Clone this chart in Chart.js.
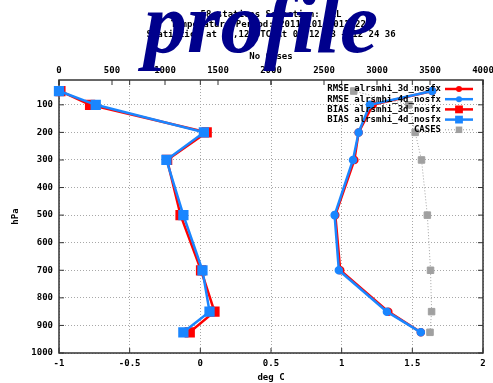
<!DOCTYPE html>
<html>
<head>
<meta charset="utf-8">
<script src="https://cdn.jsdelivr.net/npm/chart.js@4.4.1/dist/chart.umd.min.js"></script>
<style>
  html, body { margin: 0; padding: 0; background: #fff; }
</style>
</head>
<body>
<canvas id="profileChart" width="493" height="383"></canvas>
<script>
// pressure levels (hPa) and scores
const levels = [50, 100, 200, 300, 500, 700, 850, 925];
const rmse3d = [1.64, 1.22, 1.12, 1.09, 0.955, 0.99, 1.33, 1.56];
const rmse4d = [1.64, 1.20, 1.12, 1.08, 0.95, 0.98, 1.32, 1.56];
const bias3d = [-0.99, -0.78, 0.045, -0.235, -0.14, 0.005, 0.10, -0.075];
const bias4d = [-1.0, -0.74, 0.025, -0.24, -0.12, 0.015, 0.065, -0.12];
const cases = [2780, 3300, 3360, 3420, 3475, 3505, 3515, 3500];

const yTicks = [100, 200, 300, 400, 500, 600, 700, 800, 900, 1000];
const titleLines = [
  "58 stations Selection: ALL",
  "Temperature Period: 20110101-20110228",
  "Statistics at 00,12 UTC At 00,12,23 + 12 24 36",
];

const red = "#ff0000";
const blue = "#1a86ff";
const gray = "#a0a0a0";
const gridColor = "#a8a8a8";
const monoFont = "'DejaVu Sans Mono', monospace";

Chart.defaults.font.family = monoFont;
Chart.defaults.font.size = 9;
Chart.defaults.font.weight = "bold";
Chart.defaults.color = "#000";

function series(xs) {
  return levels.map((p, i) => ({ x: xs[i], y: p }));
}

function line(ctx, x1, y1, x2, y2) {
  ctx.beginPath();
  ctx.moveTo(x1, y1);
  ctx.lineTo(x2, y2);
  ctx.stroke();
}

// border box with gnuplot style inward ticks
const framePlugin = {
  id: "frame",
  beforeDatasetsDraw(chart) {
    const { ctx, chartArea: a } = chart;
    const { x, y, x2 } = chart.scales;
    ctx.save();
    ctx.strokeStyle = "#333";
    ctx.lineWidth = 1;
    x.ticks.forEach((t) => {
      const px = x.getPixelForValue(t.value);
      line(ctx, px, a.bottom, px, a.bottom - 5);
      line(ctx, px, a.top, px, a.top + 5);
    });
    x2.ticks.forEach((t) => {
      const px = x2.getPixelForValue(t.value);
      line(ctx, px, a.top, px, a.top + 5);
    });
    y.ticks.forEach((t) => {
      const py = y.getPixelForValue(t.value);
      line(ctx, a.left, py, a.left + 5, py);
      line(ctx, a.right, py, a.right - 5, py);
    });
    ctx.lineWidth = 1.5;
    ctx.strokeRect(a.left, a.top, a.right - a.left, a.bottom - a.top);
    ctx.restore();
  },
};

// key in the top right corner, text right aligned with the sample after it
const keyPlugin = {
  id: "key",
  afterDatasetsDraw(chart) {
    const { ctx, chartArea: a } = chart;
    ctx.save();
    ctx.font = "bold 9px " + monoFont;
    ctx.textAlign = "right";
    ctx.textBaseline = "middle";
    chart.data.datasets.forEach((ds, i) => {
      const yy = a.top + 9 + i * 10.2;
      ctx.fillStyle = "#000";
      ctx.fillText(ds.label, a.right - 42, yy);
      ctx.strokeStyle = ds.borderColor;
      ctx.lineWidth = ds.borderWidth;
      ctx.setLineDash(ds.borderDash || []);
      line(ctx, a.right - 38, yy, a.right - 10, yy);
      ctx.setLineDash([]);
      ctx.fillStyle = ds.backgroundColor;
      const mx = a.right - 24;
      if (ds.pointStyle === "circle") {
        ctx.beginPath();
        ctx.arc(mx, yy, ds.pointRadius, 0, Math.PI * 2);
        ctx.fill();
      } else {
        const s = ds.pointRadius * Math.SQRT1_2;
        ctx.fillRect(mx - s, yy - s, 2 * s, 2 * s);
      }
    });
    ctx.restore();
  },
};

const stampPlugin = {
  id: "stamp",
  afterDraw(chart) {
    const { ctx } = chart;
    ctx.save();
    ctx.font = "italic bold 86px 'Liberation Serif', serif";
    ctx.fillStyle = "#00008c";
    ctx.textBaseline = "alphabetic";
    ctx.fillText("profile", 144, 52);
    ctx.restore();
  },
};

const ctx = document.getElementById("profileChart").getContext("2d");

new Chart(ctx, {
  type: "scatter",
  data: {
    datasets: [
      {
        label: "RMSE alrsmhi_3d_nosfx",
        data: series(rmse3d),
        borderColor: red,
        backgroundColor: red,
        borderWidth: 2.5,
        pointStyle: "circle",
        pointRadius: 3,
        order: 4,
      },
      {
        label: "RMSE alrsmhi_4d_nosfx",
        data: series(rmse4d),
        borderColor: blue,
        backgroundColor: blue,
        borderWidth: 2.5,
        pointStyle: "circle",
        pointRadius: 3,
        order: 2,
      },
      {
        label: "BIAS alrsmhi_3d_nosfx",
        data: series(bias3d),
        borderColor: red,
        backgroundColor: red,
        borderWidth: 2.5,
        pointStyle: "rect",
        pointRadius: 5.5,
        order: 3,
      },
      {
        label: "BIAS alrsmhi_4d_nosfx",
        data: series(bias4d),
        borderColor: blue,
        backgroundColor: blue,
        borderWidth: 2.5,
        pointStyle: "rect",
        pointRadius: 5.5,
        order: 1,
      },
      {
        label: "CASES",
        data: series(cases),
        xAxisID: "x2",
        borderColor: gray,
        backgroundColor: gray,
        borderWidth: 1,
        borderDash: [1, 2],
        pointStyle: "rect",
        pointRadius: 4.6,
        order: 5,
      },
    ],
  },
  options: {
    responsive: false,
    animation: false,
    events: [],
    showLine: true,
    clip: false,
    layout: { padding: { left: 0, right: 10, top: 0, bottom: 0 } },
    elements: {
      line: { tension: 0 },
      point: { borderWidth: 0 },
    },
    plugins: {
      legend: { display: false },
      tooltip: { enabled: false },
      title: {
        display: true,
        text: titleLines,
        fullSize: false,
        padding: { top: 10, bottom: 0 },
        font: { size: 9, weight: "bold", lineHeight: "10px" },
        color: "#000",
      },
    },
    scales: {
      x: {
        type: "linear",
        position: "bottom",
        min: -1,
        max: 2,
        ticks: { stepSize: 0.5, padding: 5, callback: (v) => String(v) },
        grid: { color: gridColor, lineWidth: 1, drawTicks: false },
        border: { display: false, dash: [1, 2] },
        title: { display: true, text: "deg C", padding: { top: 0, bottom: 0 } },
        afterFit: (s) => {
          s.height = 30;
          s.paddingLeft = 0;
          s.paddingRight = 0;
        },
      },
      x2: {
        type: "linear",
        position: "top",
        min: 0,
        max: 4000,
        ticks: { stepSize: 500, padding: 4, callback: (v) => String(v) },
        grid: { display: false, drawTicks: false },
        border: { display: false },
        title: { display: true, text: "No Cases", padding: { top: 11, bottom: 0 } },
        afterFit: (s) => {
          s.height = 40;
          s.paddingLeft = 0;
          s.paddingRight = 0;
        },
      },
      y: {
        type: "linear",
        reverse: true,
        min: 10,
        max: 1000,
        afterBuildTicks: (s) => {
          s.ticks = yTicks.map((v) => ({ value: v }));
        },
        ticks: { padding: 6, callback: (v) => String(v) },
        grid: { color: gridColor, lineWidth: 1, drawTicks: false },
        border: { display: false, dash: [1, 2] },
        title: { display: true, text: "hPa", padding: { top: 10, bottom: 0 } },
        afterFit: (s) => {
          s.width = 59;
        },
      },
    },
  },
  plugins: [framePlugin, keyPlugin, stampPlugin],
});
</script>
</body>
</html>
